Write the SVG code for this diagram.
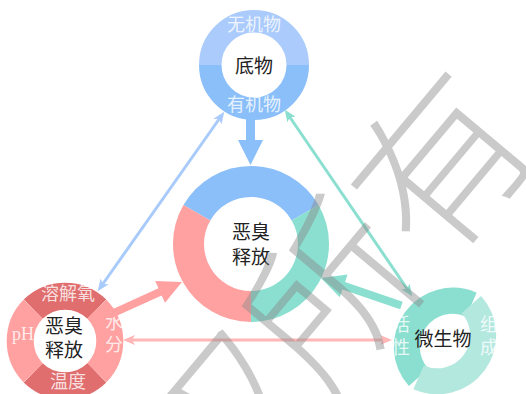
<svg xmlns="http://www.w3.org/2000/svg" width="526" height="394" viewBox="0 0 526 394">
<defs>
<style>
.ring{fill:none}
.lbl{font-family:"Liberation Serif","Noto Sans CJK SC",serif;fill:#ffffff;fill-opacity:0.8;font-size:18px;text-anchor:middle;dominant-baseline:central}
.ttl{font-family:"Liberation Serif","Noto Sans CJK SC",serif;fill:#222222;font-size:19px;text-anchor:middle;dominant-baseline:central}
.thin{fill:none;stroke-width:3}
.wm{font-family:"Noto Sans CJK SC",sans-serif;font-weight:300;font-size:170px;fill:#8a8a8a;fill-opacity:0.45;text-anchor:middle;dominant-baseline:central}
</style>
<marker id="mb" viewBox="0 0 12 10" refX="8" refY="5" markerWidth="12" markerHeight="10" markerUnits="userSpaceOnUse" orient="auto-start-reverse"><path d="M0,0 L12,5 L0,10 L3,5 z" fill="#a9cbfb"/></marker>
<marker id="mt" viewBox="0 0 12 10" refX="8" refY="5" markerWidth="12" markerHeight="10" markerUnits="userSpaceOnUse" orient="auto-start-reverse"><path d="M0,0 L12,5 L0,10 L3,5 z" fill="#8bdfd0"/></marker>
<marker id="mp" viewBox="0 0 12 10" refX="8" refY="5" markerWidth="12" markerHeight="10" markerUnits="userSpaceOnUse" orient="auto-start-reverse"><path d="M0,0 L12,5 L0,10 L3,5 z" fill="#ffb6b6"/></marker>
</defs>
<rect width="526" height="394" fill="#ffffff"/>

<g id="node-substrate">
<path class="ring" d="M210.25,65 A43.75,43.75 0 0 1 297.75,65" stroke="#aacbfb" stroke-width="22.5"/>
<path class="ring" d="M297.75,65 A43.75,43.75 0 0 1 210.25,65" stroke="#8bbff9" stroke-width="22.5"/>
<text class="lbl" x="254" y="25">无机物</text>
<text class="lbl" x="254" y="105">有机物</text>
<text class="ttl" x="254" y="66">底物</text>
</g>

<g id="node-center">
<path class="ring" d="M196.87,212.75 A62.5,62.5 0 0 1 305.13,212.75" stroke="#8bbff9" stroke-width="31"/>
<path class="ring" d="M305.13,212.75 A62.5,62.5 0 0 1 251,306.5" stroke="#8bdfd0" stroke-width="31"/>
<path class="ring" d="M251,306.5 A62.5,62.5 0 0 1 196.87,212.75" stroke="#ffa1a1" stroke-width="31"/>
<text class="ttl" x="251" y="232">恶臭</text>
<text class="ttl" x="251" y="257">释放</text>
</g>

<g id="node-factors">
<path class="ring" d="M33.18,309.18 A45.5,45.5 0 0 1 96.82,309.18" stroke="#e06e6e" stroke-width="27"/>
<path class="ring" d="M96.82,309.18 A45.5,45.5 0 0 1 96.82,372.82" stroke="#ffa1a1" stroke-width="27"/>
<path class="ring" d="M96.82,372.82 A45.5,45.5 0 0 1 33.18,372.82" stroke="#e06e6e" stroke-width="27"/>
<path class="ring" d="M33.18,372.82 A45.5,45.5 0 0 1 33.18,309.18" stroke="#ffa1a1" stroke-width="27"/>
<text class="lbl" x="68" y="294">溶解氧</text>
<text class="lbl" x="23" y="334">pH</text>
<text class="lbl" x="114" y="323">水</text>
<text class="lbl" x="114" y="345">分</text>
<text class="lbl" x="68" y="382">温度</text>
<text class="ttl" x="64" y="326">恶臭</text>
<text class="ttl" x="64" y="350">释放</text>
</g>

<g id="node-microbe">
<path class="ring" d="M418.6,377.4 A46,46 0 0 1 471.4,304.6" stroke="#8bdfd0" stroke-width="26"/>
<path class="ring" d="M471.4,304.6 A46,46 0 0 1 418.6,377.4" stroke="#b3e8df" stroke-width="26"/>
<text class="lbl" x="401" y="325">活</text>
<text class="lbl" x="401" y="348">性</text>
<text class="lbl" x="489" y="325">组</text>
<text class="lbl" x="489" y="348">成</text>
<text class="ttl" x="443" y="339">微生物</text>
</g>

<g id="connectors">
<path d="M246,117 L255,117 L255,140 L263,140 L250.5,165 L238,140 L246,140 z" fill="#8bbff9"/>
<polygon points="107.5,311.4 158.5,288.3 155.2,281.0 182,282 165.0,302.8 161.7,295.5 110.7,318.6" fill="#ffa1a1"/>
<polygon points="402.7,301.7 345.0,282.0 347.6,274.4 321,278 339.8,297.2 342.4,289.6 400.1,309.3" fill="#8bdfd0"/>
<line class="thin" x1="222" y1="115" x2="100" y2="288" stroke="#a9cbfb" marker-start="url(#mb)" marker-end="url(#mb)"/>
<line class="thin" x1="287" y1="113" x2="410" y2="293" stroke="#8bdfd0" marker-start="url(#mt)" marker-end="url(#mt)"/>
<line class="thin" x1="127" y1="340" x2="388" y2="340" stroke="#ffb6b6" marker-start="url(#mp)" marker-end="url(#mp)"/>
</g>

<text class="wm" x="268.5" y="352.5" transform="rotate(-50 268.5 352.5)">版权所有</text>
</svg>
